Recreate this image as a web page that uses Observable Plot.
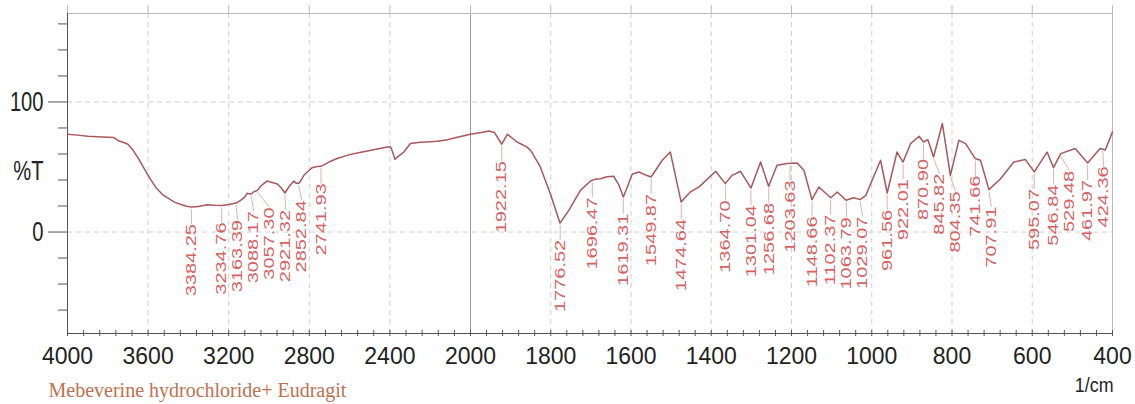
<!DOCTYPE html>
<html><head><meta charset="utf-8">
<script src="https://cdn.jsdelivr.net/npm/d3@7"></script>
<script src="https://cdn.jsdelivr.net/npm/@observablehq/plot@0.6"></script>
<style>body{margin:0;background:#fff}</style>
</head><body><div id="chart"></div>
<script>
const wavenumber = [4000,3950,3900,3850,3800,3770,3745,3720,3700,3675,3650,3620,3590,3560,3530,3505,3470,3440,3410,3384,3350,3307,3270,3235,3200,3163,3141,3120,3108,3095,3088,3075,3057,3042,3020,3009,2993,2959,2940,2921,2900,2877,2865,2852,2840,2827,2800,2786,2760,2742,2700,2662,2600,2562,2500,2450,2413,2397,2390,2375,2360,2331,2298,2250,2200,2165,2116,2060,2000,1970,1954,1940,1922,1908,1884,1860,1850,1826,1801,1777,1755,1726,1701,1690,1676,1660,1643,1630,1619,1597,1581,1565,1550,1522,1502,1475,1460,1452,1431,1419,1389,1365,1348,1327,1301,1277,1257,1236,1211,1186,1169,1149,1132,1102,1086,1064,1045,1029,1015,999,978,961.5,937,922,903,882,871,860,846,824,804,783,766,742,729,708,679,646,617,595,563,547,529,493,462,431,418,400];
const transmittance = [75.2,74.5,73.6,73.2,72.8,72.6,70,68.8,67.5,63,57,49,41,34,29,26.4,23,21.3,19.8,19.2,19.6,21,20.6,20.4,21.2,22.3,24.4,27,29.8,29.3,29.2,31,32,35.2,38,39.2,38.5,37,34,30,35,39.2,37.6,37.5,40,43.6,47.5,49.5,50.3,50.5,54,56.5,59.5,60.8,62.7,64.2,65.4,65.6,63,56,58,61.5,68,69,69.5,69.8,71,73,75.2,76.7,77.7,76.5,67.5,75.2,69.2,65.5,62.8,50,29.5,6.9,16.7,32,39.2,40.5,41,42.5,42.8,36,26.9,44.4,46.2,44,42.3,55.2,61.5,23,28.2,30.8,34.5,38,46.7,37.2,43.6,46.7,33.8,53.8,35.2,51.3,52.6,53.1,47.5,24.9,34.6,26.4,30.8,24.4,26.4,24.9,28,39.8,55.2,30,61.5,53.8,68,73.6,69.2,71,57.7,83.4,43.6,70.5,68,56.5,55.2,32.6,41,53.8,55.7,46.2,61.5,49.5,60.3,64.2,53.1,64.2,63,77];
const peakLabels = ["3384.25","3234.76","3163.39","3088.17","3057.30","2921.32","2852.84","2741.93","1922.15","1776.52","1696.47","1619.31","1549.87","1474.64","1364.70","1301.04","1256.68","1203.63","1148.66","1102.37","1063.79","1029.07","961.56","922.01","870.90","845.82","804.35","741.66","707.91","595.07","546.84","529.48","461.97","424.36"];
const xTickLabels = [4000,3600,3200,2800,2400,2000,1800,1600,1400,1200,1000,800,600,400];
const yTickLabels = [0,100];
const yMinorTicks = [-60,-40,-20,20,40,60,80,120,140,160];
const yAxisTitle = "%T";
const xAxisUnit = "1/cm";
const sampleName = "Mebeverine hydrochloride+ Eudragit";

const W = 1135, H = 404;
const xDomain = [4000, 2000, 400], xRange = [67, 470, 1112];
const yDomain = [-78, 168], yRange = [333, 13];
const xs = Plot.scale({x: {type: "linear", domain: xDomain, range: xRange}});
const ys = Plot.scale({y: {type: "linear", domain: yDomain, range: yRange}});
const xOff = (w, d) => xs.invert(xs.apply(w) + d);
const yOff = (t, d) => ys.invert(ys.apply(t) + d);

const spectrum = wavenumber.map((w, i) => ({w, t: transmittance[i]}));
function interpT(w) {
  for (let i = 0; i < wavenumber.length - 1; i++) {
    const a = wavenumber[i], b = wavenumber[i + 1];
    if (w <= a && w >= b) {
      const f = (a - w) / (a - b);
      return transmittance[i] + f * (transmittance[i + 1] - transmittance[i]);
    }
  }
  return transmittance[transmittance.length - 1];
}
// label layout: keep labels at least `gap` px apart, pushing to the right
const gap = 16;
let prev = -Infinity;
const peaks = peakLabels.map(s => {
  const w = +s, t = interpT(w);
  let p = Math.max(xs.apply(w), prev + gap);
  prev = p;
  return {s, w, t, lx: xs.invert(p), y1: yOff(t, 2), top: yOff(t, 17)};
});

const minorX = d3.range(4000, 2000, -80).concat(d3.range(2000, 399, -40));
const gridX = xTickLabels.filter(d => d !== 4000 && d !== 2000 && d !== 400);
const sans = "Liberation Sans, Arial, sans-serif";
const axisCol = "#555";

// text marks, in order; each gets a horizontal squeeze factor
const textMarks = [
  [Plot.text(peaks, {x: "lx", y: "top", text: "s", rotate: -90, textAnchor: "end", fontSize: 20, fill: "#d7625f", fontFamily: sans}), 0.74],
  [Plot.text(xTickLabels, {x: d => d, y: () => yDomain[0], dy: 23, text: d => String(d), fontSize: 23, fill: "#222", fontFamily: sans}), 1],
  [Plot.text(yTickLabels, {x: () => 4000, y: d => d, dx: -24, textAnchor: "end", text: d => String(d), fontSize: 28, fill: "#222", fontFamily: sans}), 0.72],
  [Plot.text([yAxisTitle], {x: () => 4000, y: () => 47, dx: -24, textAnchor: "end", fontSize: 28, fill: "#222", fontFamily: sans}), 0.72],
  [Plot.text([xAxisUnit], {x: () => 400, y: () => yDomain[0], dx: 1, dy: 52, textAnchor: "end", fontSize: 21, fill: "#222", fontFamily: sans}), 0.85],
  [Plot.text([sampleName], {x: () => 4000, y: () => yDomain[0], dx: -19, dy: 57, textAnchor: "start", fontSize: 20, fill: "#c0714f", fontFamily: "Liberation Serif, Times New Roman, serif"}), 1]
];

const chart = Plot.plot({
  width: W, height: H,
  marginLeft: 67, marginRight: 23, marginTop: 13, marginBottom: 71,
  style: {background: "#fff", overflow: "visible"},
  x: {type: "linear", domain: xDomain, range: xRange, axis: null},
  y: {type: "linear", domain: yDomain, range: yRange, axis: null},
  marks: [
    Plot.ruleX(gridX, {y1: yDomain[0], y2: yDomain[1], stroke: "#cfcfcf", strokeDasharray: "5,4"}),
    Plot.ruleY([0, 100], {x1: 4000, x2: 400, stroke: "#cfcfcf", strokeDasharray: "5,4"}),
    Plot.ruleX([2000], {y1: yDomain[0], y2: yDomain[1], stroke: "#999"}),
    Plot.ruleY([yDomain[1]], {x1: 4000, x2: 400, stroke: "#bbb"}),
    Plot.ruleX([400], {y1: yDomain[0], y2: yDomain[1], stroke: "#bbb"}),
    Plot.ruleX(xTickLabels, {y1: yDomain[1], y2: yOff(yDomain[1], -8), stroke: "#bbb"}),
    Plot.ruleX([4000], {y1: yDomain[0], y2: yDomain[1], stroke: axisCol}),
    Plot.ruleY([yDomain[0]], {x1: 4000, x2: 400, stroke: axisCol}),
    Plot.ruleX(minorX, {y1: yOff(yDomain[0], -3), y2: yOff(yDomain[0], 3), stroke: axisCol}),
    Plot.ruleY(yMinorTicks, {x1: xOff(4000, -9), x2: 4000, stroke: axisCol}),
    Plot.ruleY(yTickLabels, {x1: xOff(4000, -19), x2: 4000, stroke: axisCol}),
    Plot.line(spectrum, {x: "w", y: "t", stroke: "#a9585c", strokeWidth: 1.5}),
    Plot.link(peaks, {x1: "w", y1: "y1", x2: "lx", y2: "top", stroke: "#dd9a98", strokeWidth: 0.8}),
    ...textMarks.map(d => d[0])
  ]
});

const textGroups = chart.querySelectorAll(':scope > g[aria-label="text"]');
textGroups.forEach((g, k) => {
  const s = textMarks[k] ? textMarks[k][1] : 1;
  if (s === 1) return;
  g.querySelectorAll("text").forEach(t => {
    const tr = t.getAttribute("transform") || "";
    if (tr.includes("rotate(")) t.setAttribute("transform", tr.replace("rotate(", `scale(${s},1) rotate(`));
    else t.setAttribute("transform", tr + ` scale(${s},1)`);
  });
});
document.getElementById("chart").appendChild(chart);
</script>
</body></html>
